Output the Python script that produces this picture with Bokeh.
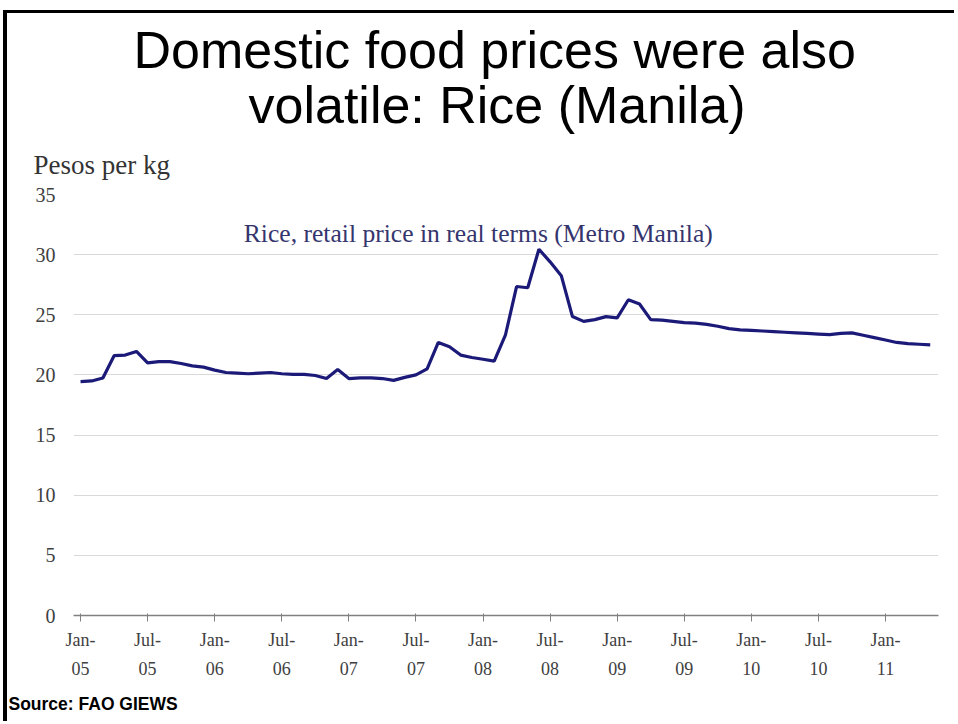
from bokeh.plotting import figure
from bokeh.models import Range1d, FixedTicker, Label, Title
from bokeh.embed import file_html
from bokeh.resources import INLINE

# Monthly retail rice price in real terms, Metro Manila (Pesos per kg), Jan-05 .. May-11
prices = [
    19.45, 19.5, 19.75, 21.6, 21.65, 21.95, 21.0, 21.1, 21.1, 20.95,
    20.75, 20.65, 20.4, 20.2, 20.15, 20.1, 20.15, 20.2, 20.1, 20.05,
    20.05, 19.95, 19.7, 20.45, 19.7, 19.75, 19.75, 19.7, 19.55, 19.8,
    20.0, 20.5, 22.7, 22.35, 21.65, 21.45, 21.3, 21.15, 23.3, 27.35,
    27.25, 30.45, 29.4, 28.25, 24.85, 24.45, 24.6, 24.85, 24.75, 26.25,
    25.9, 24.6, 24.55, 24.45, 24.35, 24.3, 24.2, 24.05, 23.85, 23.75,
    23.7, 23.65, 23.6, 23.55, 23.5, 23.45, 23.4, 23.35, 23.45, 23.5,
    23.3, 23.1, 22.9, 22.7, 22.6, 22.55, 22.5,
]
months = list(range(len(prices)))

tick_months = [0, 6, 12, 18, 24, 30, 36, 42, 48, 54, 60, 66, 72]
tick_labels = ["Jan-\n05", "Jul-\n05", "Jan-\n06", "Jul-\n06", "Jan-\n07", "Jul-\n07",
               "Jan-\n08", "Jul-\n08", "Jan-\n09", "Jul-\n09", "Jan-\n10", "Jul-\n10",
               "Jan-\n11"]
y_ticks = [0, 5, 10, 15, 20, 25, 30, 35]

title_lines = ["Domestic food prices were also", "volatile: Rice (Manila)"]
y_label = "Pesos per kg"
series_label = "Rice, retail price in real terms (Metro Manila)"
source_text = "Source: FAO GIEWS"

p = figure(width=951, height=711, output_backend="svg", toolbar_location=None,
           x_range=Range1d(-0.63, 76.74), y_range=Range1d(0, 35),
           min_border_left=66, min_border_right=20, min_border_top=181,
           min_border_bottom=109,
           styles={"margin-left": "3px", "margin-top": "10px",
                   "border-left": "4px solid black", "border-top": "3px solid black"})
p.outline_line_color = None
p.background_fill_color = "white"
p.border_fill_color = "white"

# grid
p.xgrid.grid_line_color = None
p.ygrid.grid_line_color = "#d9d9d9"
p.ygrid.grid_line_width = 1.2
p.ygrid.ticker = FixedTicker(ticks=y_ticks)

# y axis
p.yaxis.ticker = FixedTicker(ticks=y_ticks)
p.yaxis.axis_line_color = None
p.yaxis.major_tick_line_color = None
p.yaxis.minor_tick_line_color = None
p.yaxis.major_label_text_font = "Liberation Serif"
p.yaxis.major_label_text_font_size = "20px"
p.yaxis.major_label_text_color = "#404040"
p.yaxis.major_label_standoff = 12

# x axis
p.xaxis.ticker = FixedTicker(ticks=tick_months)
p.xaxis.major_label_overrides = {m: lab for m, lab in zip(tick_months, tick_labels)}
p.xaxis.axis_line_color = "#808080"
p.xaxis.axis_line_width = 1.5
p.xaxis.major_tick_line_color = "#808080"
p.xaxis.major_tick_in = 2
p.xaxis.major_tick_out = 6
p.xaxis.minor_tick_line_color = None
p.xaxis.major_label_text_font = "Liberation Serif"
p.xaxis.major_label_text_font_size = "18px"
p.xaxis.major_label_text_color = "#404040"
p.xaxis.major_label_text_line_height = 1.45
p.xaxis.major_label_standoff = 8

# series
p.line(months, prices, line_color="#1c1a78", line_width=3.2)

# series annotation (data coordinates)
p.add_layout(Label(x=14.6, y=31.75, text=series_label, text_font="Liberation Serif",
                   text_font_size="25.6px", text_color="#35356e",
                   text_baseline="alphabetic"))

# texts in the side panels (first added sits nearest the frame)
p.add_layout(Title(text=y_label, align="left", offset=-40, standoff=30,
                   text_font="Liberation Serif", text_font_size="27px",
                   text_font_style="normal", text_color="#333333"), "above")
p.add_layout(Title(text=title_lines[1], align="left", offset=175, standoff=-2,
                   text_font="Liberation Sans", text_font_size="52px",
                   text_font_style="normal", text_color="black"), "above")
p.add_layout(Title(text=title_lines[0], align="left", offset=60, standoff=-9,
                   text_font="Liberation Sans", text_font_size="52px",
                   text_font_style="normal", text_color="black"), "above")
p.add_layout(Title(text=source_text, align="left", offset=-65, standoff=20,
                   text_font="Liberation Sans", text_font_size="17.5px",
                   text_font_style="bold", text_color="black"), "below")

open("out.html", "w").write(file_html(p, INLINE))
